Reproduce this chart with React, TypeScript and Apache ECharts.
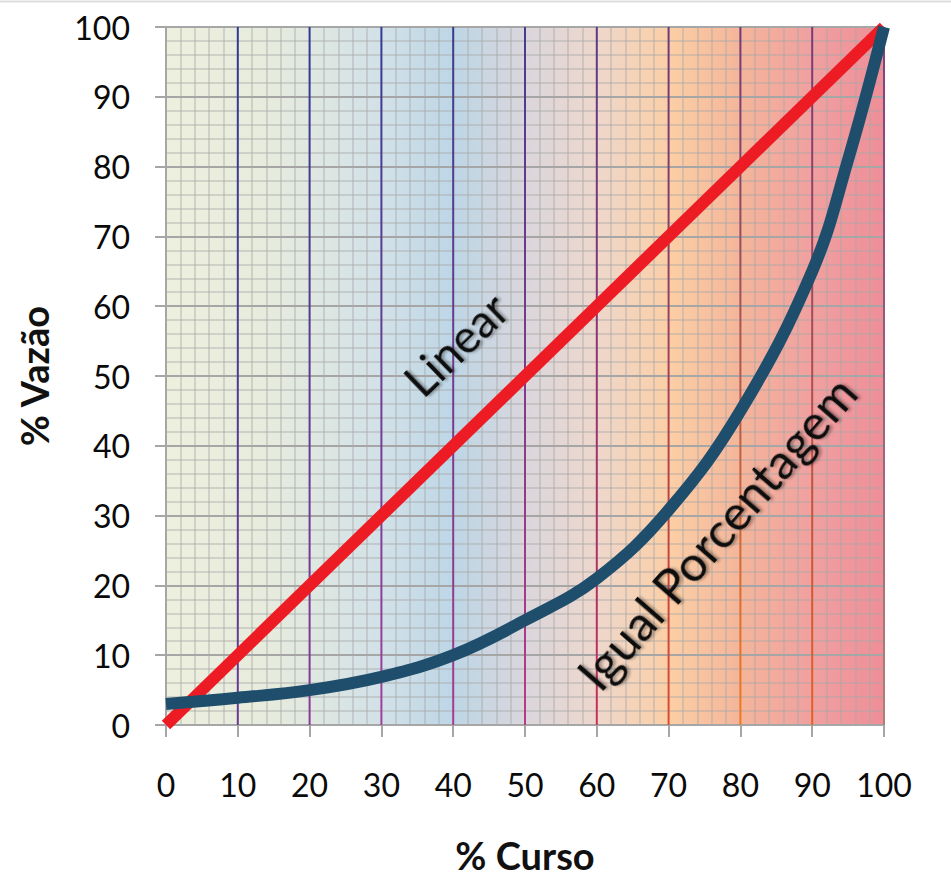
import React, { useEffect, useRef } from "react";
import * as echarts from "echarts";

const xTicks = [0, 10, 20, 30, 40, 50, 60, 70, 80, 90, 100];
const linearX = [0, 100];
const linearY = [0, 100];
const eqX = [0, 10, 20, 30, 40, 50, 60, 70, 80, 90, 95, 100];
const eqY = [3, 3.9, 5, 6.9, 10, 15, 21, 30.8, 45, 65, 81, 100];
const majorX = [10, 20, 30, 40, 50, 60, 70, 80, 90, 100];
const labelLinear = { text: "Linear", x: 40.3, y: 54.6 };
const labelEq = { text: "Igual Porcentagem", x: 76.6, y: 27.6 };

const lineTop = ["#2e3a90", "#2e3a90", "#333a90", "#3a3a8c", "#4a3a8a", "#5a3a88", "#6a3a80", "#70387a", "#783a7a", "#804080"];
const lineBot = ["#6a3a90", "#8a3a98", "#a0409a", "#a83a90", "#b83a8a", "#c8305a", "#e04a30", "#f07a20", "#e86020", "#b08078"];

const FONT = "Lato, 'Open Sans', sans-serif";

export default function App() {
  const ref = useRef<HTMLDivElement>(null);
  useEffect(() => {
    document.body.style.margin = "0";
    const chart = echarts.init(ref.current!, null, { renderer: "svg" });
    const textStyleBase = {
      color: "#111",
      fontFamily: FONT,
      textShadowColor: "rgba(0,0,0,0.35)",
      textShadowBlur: 3,
      textShadowOffsetX: 2,
      textShadowOffsetY: 2,
    };
    chart.setOption({
      animation: false,
      grid: {
        left: 166,
        right: 67,
        top: 27,
        bottom: 155,
        show: true,
        borderWidth: 0,
        backgroundColor: new echarts.graphic.LinearGradient(0, 0, 1, 0, [
          { offset: 0, color: "#eef0de" },
          { offset: 0.15, color: "#e6ebdd" },
          { offset: 0.3, color: "#d2e1e8" },
          { offset: 0.4, color: "#bdd6e6" },
          { offset: 0.5, color: "#dad6dc" },
          { offset: 0.6, color: "#eed7cc" },
          { offset: 0.7, color: "#fbcfa6" },
          { offset: 0.8, color: "#f4b59a" },
          { offset: 0.9, color: "#f0a0a0" },
          { offset: 1, color: "#ef8e98" },
        ]),
      },
      graphic: [
        { type: "line", shape: { x1: 0, y1: 1.5, x2: 951, y2: 1.5 }, style: { stroke: "#dddddd", lineWidth: 2 } },
      ],
      xAxis: {
        type: "value",
        min: 0,
        max: 100,
        interval: 10,
        name: "% Curso",
        nameLocation: "middle",
        nameGap: 111,
        nameTextStyle: { fontFamily: FONT, fontSize: 38, fontWeight: "bold", color: "#111", verticalAlign: "top" },
        axisLine: { show: true, lineStyle: { color: "#a6a6a6", width: 2 } },
        axisTick: { show: true, length: 12, lineStyle: { color: "#a6a6a6", width: 2 } },
        axisLabel: { fontFamily: FONT, fontSize: 32, color: "#0a0a0a", margin: 43, formatter: (v: number) => (xTicks.includes(v) ? String(v) : "") },
        splitLine: { show: false },
        minorTick: { show: false, splitNumber: 5 },
        minorSplitLine: { show: true, lineStyle: { color: "rgba(170,170,170,0.55)", width: 1.5 } },
      },
      yAxis: {
        type: "value",
        min: 0,
        max: 100,
        interval: 10,
        name: "% Vazão",
        nameLocation: "middle",
        nameGap: 113,
        nameRotate: 90,
        nameTextStyle: { fontFamily: FONT, fontSize: 38, fontWeight: "bold", color: "#111" },
        axisLine: { show: true, lineStyle: { color: "#a6a6a6", width: 2 } },
        axisTick: { show: true, length: 11, lineStyle: { color: "#a6a6a6", width: 2 } },
        axisLabel: { fontFamily: FONT, fontSize: 32, color: "#0a0a0a", margin: 36 },
        splitLine: { show: true, lineStyle: { color: "#a6a6a6", width: 2 } },
        minorTick: { show: false, splitNumber: 5 },
        minorSplitLine: { show: true, lineStyle: { color: "rgba(170,170,170,0.55)", width: 1.5 } },
      },
      series: [
        {
          type: "custom",
          z: 1,
          silent: true,
          clip: false,
          encode: { x: 0, y: 1 },
          data: majorX.map((x) => [x, 0]),
          renderItem: (params: any, api: any) => {
            const x = api.value(0);
            const top = api.coord([x, 100]);
            const bot = api.coord([x, 0]);
            const i = params.dataIndex;
            return {
              type: "rect",
              shape: { x: top[0] - 1, y: top[1], width: 2, height: bot[1] - top[1] },
              style: {
                fill: new echarts.graphic.LinearGradient(0, 0, 0, 1, [
                  { offset: 0, color: lineTop[i] },
                  { offset: 1, color: lineBot[i] },
                ]),
              },
            };
          },
        },
        {
          type: "line",
          z: 3,
          symbol: "none",
          data: linearX.map((x, i) => [x, linearY[i]]),
          lineStyle: { color: "#ed1c24", width: 12 },
          markPoint: {
            symbol: "circle",
            symbolSize: 0,
            label: { show: true, position: "inside", formatter: labelLinear.text, rotate: 44, fontSize: 46, ...textStyleBase },
            data: [{ coord: [labelLinear.x, labelLinear.y] }],
          },
        },
        {
          type: "line",
          z: 4,
          symbol: "none",
          smooth: 0.4,
          data: eqX.map((x, i) => [x, eqY[i]]),
          lineStyle: { color: "#1f4e6d", width: 12 },
          markPoint: {
            symbol: "circle",
            symbolSize: 0,
            label: { show: true, position: "inside", formatter: labelEq.text, rotate: 49, fontSize: 49, ...textStyleBase },
            data: [{ coord: [labelEq.x, labelEq.y] }],
          },
        },
      ],
    });
    return () => chart.dispose();
  }, []);
  return <div ref={ref} style={{ width: 951, height: 880 }} />;
}
